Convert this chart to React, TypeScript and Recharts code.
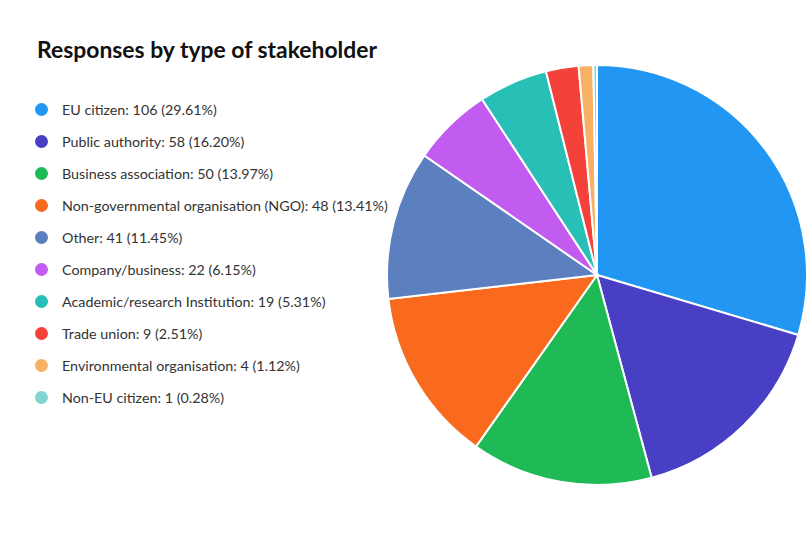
import { PieChart, Pie, Cell, Legend } from 'recharts'

const categories = [
  'EU citizen',
  'Public authority',
  'Business association',
  'Non-governmental organisation (NGO)',
  'Other',
  'Company/business',
  'Academic/research Institution',
  'Trade union',
  'Environmental organisation',
  'Non-EU citizen',
]
const counts = [106, 58, 50, 48, 41, 22, 19, 9, 4, 1]
const shares = ['29.61%', '16.20%', '13.97%', '13.41%', '11.45%', '6.15%', '5.31%', '2.51%', '1.12%', '0.28%']
const colors = [
  '#2196f3',
  '#483fc4',
  '#1fb955',
  '#fa6a1e',
  '#5c7fc0',
  '#c25cf0',
  '#28bfb6',
  '#f4413a',
  '#f8b064',
  '#80d4d1',
]

const data = categories.map((name, i) => ({ name, value: counts[i], share: shares[i] }))

const FONT = 'Lato, "Noto Sans", sans-serif'

const LegendList = () => (
  <div style={{ fontFamily: FONT }}>
    {data.map((d, i) => (
      <div key={d.name} style={{ display: 'flex', alignItems: 'center', height: 32.1 }}>
        <span
          style={{
            width: 13,
            height: 13,
            borderRadius: '50%',
            background: colors[i],
            marginRight: 14,
            flexShrink: 0,
          }}
        />
        <span style={{ fontSize: 14.3, color: '#333' }}>
          {d.name}: {d.value} ({d.share})
        </span>
      </div>
    ))}
  </div>
)

export default function App() {
  return (
    <div style={{ position: 'absolute', left: 0, top: 0, width: 811, height: 534, background: '#fff' }}>
      <div
        style={{
          position: 'absolute',
          left: 37,
          top: 35,
          fontFamily: FONT,
          fontWeight: 700,
          fontSize: 22.9,
          color: '#111',
          whiteSpace: 'nowrap',
        }}
      >
        Responses by type of stakeholder
      </div>
      <PieChart width={811} height={534} margin={{ top: 0, right: 0, bottom: 0, left: 0 }}>
        <Pie
          data={data}
          dataKey="value"
          nameKey="name"
          cx={597}
          cy={275}
          outerRadius={210}
          startAngle={90}
          endAngle={-270}
          stroke="#fff"
          strokeWidth={2}
          isAnimationActive={false}
        >
          {data.map((d, i) => (
            <Cell key={d.name} fill={colors[i]} />
          ))}
        </Pie>
        <Legend
          layout="vertical"
          content={<LegendList />}
          wrapperStyle={{ position: 'absolute', left: 35, top: 93, width: 400 }}
        />
      </PieChart>
    </div>
  )
}
